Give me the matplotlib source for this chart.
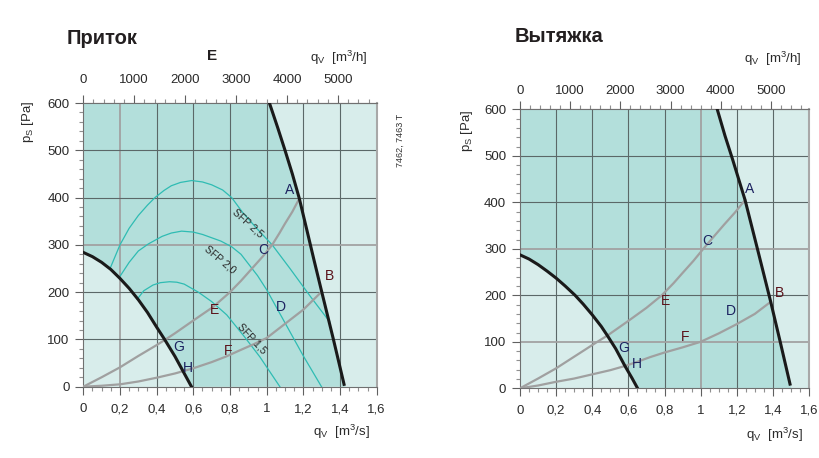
import matplotlib
matplotlib.use("Agg")
import matplotlib.pyplot as plt
import numpy as np
from matplotlib.ticker import FixedLocator, MultipleLocator

plt.rcParams['font.family'] = ['Liberation Sans', 'DejaVu Sans']
plt.rcParams['mathtext.fontset'] = 'custom'
plt.rcParams['mathtext.rm'] = 'Liberation Sans'
plt.rcParams['mathtext.it'] = 'Liberation Sans'

# ---------------- data (q in m3/s, p in Pa) ----------------
titles = ["Приток", "Вытяжка"]
x_ticks = [0, 0.2, 0.4, 0.6, 0.8, 1.0, 1.2, 1.4, 1.6]
x_tick_labels = ["0", "0,2", "0,4", "0,6", "0,8", "1", "1,2", "1,4", "1,6"]
y_ticks = [0, 100, 200, 300, 400, 500, 600]
top_ticks = [0, 1000, 2000, 3000, 4000, 5000]

# supply (left)
L_min_q = [0, 0.05, 0.1, 0.15, 0.2, 0.25, 0.3, 0.35, 0.4, 0.445, 0.5, 0.545, 0.59]
L_min_p = [284, 275, 263, 248, 229, 208, 184, 157, 126, 99, 64, 32, 0]
L_max_q = [1.015, 1.06, 1.1, 1.14, 1.178, 1.22, 1.258, 1.3, 1.364, 1.422]
L_max_p = [600, 548, 500, 450, 398, 330, 268, 201, 100, 5]
L_sysA_q = [0, 0.1, 0.2, 0.3, 0.4, 0.445, 0.5, 0.6, 0.709, 0.8, 0.86, 0.92,
            0.98, 1.03, 1.07, 1.1, 1.14, 1.178]
L_sysA_p = [0, 20, 41, 65, 88, 99, 113, 140, 169, 200, 224, 250,
            276, 300, 325, 345, 370, 398]
L_sysB_q = [0, 0.1, 0.2, 0.3, 0.4, 0.5, 0.6, 0.7, 0.78, 0.854, 0.93, 1.0,
            1.09, 1.2, 1.3]
L_sysB_p = [0, 2, 5, 11, 19, 28, 39, 52, 64, 77, 90, 103, 130, 163, 201]
SFP25_q = [0.146, 0.2, 0.25, 0.3, 0.35, 0.391, 0.44, 0.48, 0.53, 0.591, 0.65,
           0.7, 0.76, 0.809, 0.87, 0.95, 1.03, 1.127, 1.24, 1.344]
SFP25_p = [250, 300, 335, 362, 384, 400, 415, 425, 432, 436, 433,
           427, 416, 400, 368, 333, 300, 250, 190, 137]
SFP20_q = [0.196, 0.25, 0.3, 0.355, 0.43, 0.48, 0.536, 0.6, 0.65, 0.75, 0.809,
           0.86, 0.9, 0.95, 1.0, 1.1, 1.2, 1.299]
SFP20_p = [231, 263, 287, 302, 318, 325, 329, 327, 322, 308, 296,
           280, 260, 235, 205, 135, 65, 0]
SFP15_q = [0.294, 0.33, 0.38, 0.42, 0.47, 0.51, 0.55, 0.627, 0.7, 0.782, 0.88,
           0.963, 1.072]
SFP15_p = [185, 203, 215, 220, 222, 221, 217, 200, 180, 152, 105, 63, 0]
sfp_names = ["SFP 2,5", "SFP 2,0", "SFP 1,5"]
sfp_label_q = [0.9, 0.745, 0.918]
sfp_label_p = [345, 268, 102]
sfp_label_rot = [-42, -40, -47]
L_pt_names = ["A", "B", "C", "D", "E", "F", "G", "H"]
L_pt_q = [1.123, 1.341, 0.981, 1.078, 0.714, 0.791, 0.518, 0.573]
L_pt_p = [416, 234, 289, 168, 162, 76, 85, 39]

# extract (right)
R_min_q = [0, 0.05, 0.1, 0.15, 0.2, 0.25, 0.305, 0.35, 0.4, 0.45, 0.486, 0.53,
           0.581, 0.62, 0.651]
R_min_p = [287, 278, 266, 252, 237, 220, 200, 181, 158, 133, 112, 85, 48, 22, 0]
R_max_q = [1.092, 1.135, 1.178, 1.246, 1.317, 1.388, 1.44, 1.495]
R_max_p = [600, 543, 491, 405, 296, 186, 101, 9]
R_sysA_q = [0, 0.1, 0.2, 0.3, 0.42, 0.486, 0.6, 0.7, 0.785, 0.85, 0.9, 0.96,
            1.015, 1.07, 1.13, 1.19, 1.246]
R_sysA_p = [0, 21, 43, 68, 98, 114, 145, 173, 200, 226, 248, 274,
            300, 325, 352, 378, 405]
R_sysB_q = [0, 0.1, 0.2, 0.3, 0.4, 0.5, 0.581, 0.65, 0.72, 0.8, 0.9, 1.0, 1.1,
            1.2, 1.3, 1.388]
R_sysB_p = [0, 6, 14, 21, 30, 39, 48, 57, 67, 77, 88, 100, 118, 138, 160, 186]
R_pt_names = ["A", "B", "C", "D", "E", "F", "G", "H"]
R_pt_q = [1.27, 1.436, 1.037, 1.168, 0.803, 0.914, 0.572, 0.646]
R_pt_p = [428, 206, 317, 167, 188, 111, 86, 52]

pt_colors = {"A": "#1c2260", "B": "#5a1018", "C": "#1c2260", "D": "#1c2260",
             "E": "#5a1018", "F": "#5a1018", "G": "#1c2260", "H": "#1c2260"}

DARK = "#b3dfdb"
LIGHT = "#d8edeb"
GRID = "#5b6868"
SYS = "#a0a0a0"
TEAL = "#2fbcb3"

fig = plt.figure(figsize=(8.19, 4.58), dpi=100)
axL = fig.add_axes([83.3/819, 1-386.7/458, 293.4/819, 283.7/458])
axR = fig.add_axes([520/819, 1-388.3/458, 289/819, 279/458])


def setup(ax, thick_h, thick_v, top_pad):
    ax.set_xlim(0, 1.6)
    ax.set_ylim(0, 600)
    ax.set_facecolor(LIGHT)
    for v in x_ticks[1:-1]:
        if v in thick_v:
            ax.axvline(v, color="#a2a2a2", lw=1.3, zorder=1)
        else:
            ax.axvline(v, color=GRID, lw=0.8, zorder=1)
    for v in y_ticks[1:-1]:
        if v in thick_h:
            ax.axhline(v, color="#a2a2a2", lw=1.3, zorder=1)
        else:
            ax.axhline(v, color=GRID, lw=0.8, zorder=1)
    ax.set_xticks(x_ticks)
    ax.set_xticklabels(x_tick_labels)
    ax.xaxis.set_minor_locator(MultipleLocator(0.05))
    ax.set_yticks(y_ticks)
    ax.yaxis.set_minor_locator(MultipleLocator(20))
    ax.tick_params(which="major", length=6, width=0.8, color="#606060",
                   labelsize=9.5, labelcolor="#2a2a2a", pad=4)
    ax.tick_params(axis="x", which="major", pad=6)
    ax.tick_params(which="minor", length=3, width=0.8, color="#909090")
    for s in ["left", "bottom", "top"]:
        ax.spines[s].set_color("#707070")
        ax.spines[s].set_linewidth(0.8)
    ax.spines["right"].set_color("#a8a8a8")
    ax.spines["right"].set_linewidth(1.5)
    sec = ax.secondary_xaxis("top", functions=(lambda q: q*3600, lambda h: h/3600))
    sec.set_xticks(top_ticks)
    sec.xaxis.set_minor_locator(FixedLocator(list(range(0, 5800, 200))))
    sec.tick_params(which="major", length=6, width=0.8, color="#606060",
                    labelsize=9.5, labelcolor="#2a2a2a", pad=top_pad)
    sec.tick_params(which="minor", length=3, width=0.8, color="#909090")
    sec.spines["top"].set_color("#707070")
    return sec


def draw(ax, minq, minp, maxq, maxp, aq, ap, bq, bp, names, pq, pp):
    # dark operating region between the two fan curves
    poly_q = [0, maxq[0]] + list(maxq) + [maxq[-1] + 0.008] + list(minq[::-1])
    poly_p = [600, 600] + list(maxp) + [0] + list(minp[::-1])
    ax.fill(poly_q, poly_p, color=DARK, zorder=0.5, lw=0)
    ax.plot(aq, ap, color=SYS, lw=1.6, zorder=3, solid_joinstyle="round")
    ax.plot(bq, bp, color=SYS, lw=1.6, zorder=3, solid_joinstyle="round")
    ax.plot(minq, minp, color="#1a1a1a", lw=2.2, zorder=4, solid_joinstyle="round")
    ax.plot(maxq, maxp, color="#1a1a1a", lw=2.2, zorder=4, solid_joinstyle="round")
    for n, q, p in zip(names, pq, pp):
        ax.text(q, p, n, fontsize=10, color=pt_colors[n], ha="center",
                va="center", zorder=5)


setup(axL, thick_h=[300], thick_v=[0.2], top_pad=6)
setup(axR, thick_h=[300, 100], thick_v=[1.0], top_pad=3)

for q, p in [(SFP25_q, SFP25_p), (SFP20_q, SFP20_p), (SFP15_q, SFP15_p)]:
    axL.plot(q, p, color=TEAL, lw=0.9, zorder=2, solid_joinstyle="round")
for n, q, p, r in zip(sfp_names, sfp_label_q, sfp_label_p, sfp_label_rot):
    axL.text(q, p, n, fontsize=7.5, rotation=r, ha="center", va="center",
             color="#2a2a2a", zorder=5, rotation_mode="anchor")

draw(axL, L_min_q, L_min_p, L_max_q, L_max_p, L_sysA_q, L_sysA_p,
     L_sysB_q, L_sysB_p, L_pt_names, L_pt_q, L_pt_p)
draw(axR, R_min_q, R_min_p, R_max_q, R_max_p, R_sysA_q, R_sysA_p,
     R_sysB_q, R_sysB_p, R_pt_names, R_pt_q, R_pt_p)


def ftext(x, y, s, **kw):
    fig.text(x/819, 1-y/458, s, **kw)


ftext(67, 38, titles[0], fontsize=14.5, fontweight="bold", color="#231f20",
      ha="left", va="center")
ftext(515, 37, titles[1], fontsize=14.5, fontweight="bold", color="#231f20",
      ha="left", va="center")
ftext(212, 56, "E", fontsize=11, fontweight="bold", color="#231f20",
      ha="center", va="center")
lab_h = r"q$_\mathregular{V}$  [m$^\mathregular{3}$/h]"
lab_s = r"q$_\mathregular{V}$  [m$^\mathregular{3}$/s]"
lab_p = r"p$_\mathregular{S}$ [Pa]"
ftext(339, 58, lab_h, fontsize=9.5, color="#2a2a2a", ha="center", va="center")
ftext(773, 59, lab_h, fontsize=9.5, color="#2a2a2a", ha="center", va="center")
ftext(341, 432, lab_s, fontsize=9.5, color="#2a2a2a", ha="center", va="center")
ftext(774, 435, lab_s, fontsize=9.5, color="#2a2a2a", ha="center", va="center")
ftext(28, 122, lab_p, fontsize=9.5, color="#2a2a2a", ha="center", va="center",
      rotation=90)
ftext(467, 131, lab_p, fontsize=9.5, color="#2a2a2a", ha="center", va="center",
      rotation=90)
ftext(400, 140, "7462, 7463 T", fontsize=6.5, color="#333333", ha="center",
      va="center", rotation=90)

fig.savefig("out.png", dpi=100)
